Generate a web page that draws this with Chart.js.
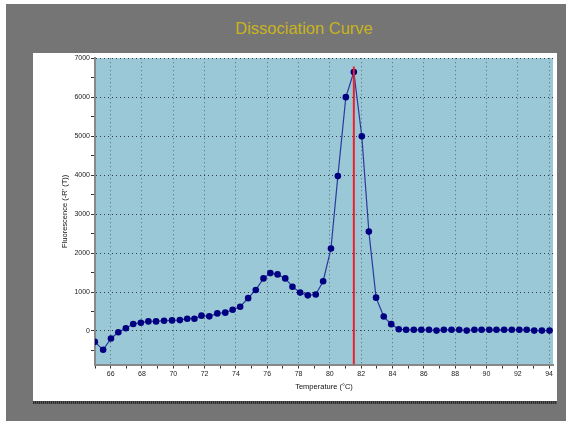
<!DOCTYPE html>
<html>
<head>
<meta charset="utf-8">
<title>Dissociation Curve</title>
<script src="https://cdn.jsdelivr.net/npm/chart.js@4"></script>
<style>
  body { margin: 0; width: 566px; height: 421px; overflow: hidden; background: #fff; font-family: 'Liberation Sans', Arial, sans-serif; }
  #frame { position: absolute; left: 6px; top: 4px; width: 560px; height: 417px; background: #757575; }
  #title { position: absolute; left: 194px; top: 18px; width: 220px; text-align: center; line-height: 20px; font-size: 16.5px; color: #c8b41c; }
  #panel { position: absolute; left: 33px; top: 53px; width: 524px; height: 348px; background: #fff; }
  #shadow { position: absolute; left: 33px; top: 401px; width: 524px; height: 3px;
            background: repeating-linear-gradient(90deg, #2e2e2e 0 1px, #555 1px 2px); }
  #chart { position: absolute; left: 0; top: 0; }
</style>
</head>
<body>
<div id="frame"></div>
<div id="title">Dissociation Curve</div>
<div id="panel"><canvas id="chart" width="524" height="348"></canvas></div>
<div id="shadow"></div>
<script>
// temperaturas medidas (eje X) y fluorescencia -R'(T)
const temps = [
  64.99, 65.52, 66.02, 66.49, 66.97, 67.44, 67.93, 68.41, 68.90, 69.41,
  69.92, 70.42, 70.89, 71.35, 71.80, 72.30, 72.81, 73.32, 73.79, 74.27,
  74.78, 75.27, 75.76, 76.20, 76.66, 77.15, 77.61, 78.10, 78.59, 79.10,
  79.57, 80.07, 80.51, 81.02, 81.53, 82.04, 82.49, 82.95, 83.44, 83.92,
  84.40, 84.87, 85.36, 85.84, 86.33, 86.81, 87.28, 87.77, 88.26, 88.74,
  89.23, 89.69, 90.18, 90.64, 91.13, 91.62, 92.10, 92.57, 93.05, 93.54,
  94.03
];
const fluor = [
  -279, -483, -193, -33, 69, 178, 213, 246, 246, 264,
  272, 279, 315, 315, 393, 375, 451, 470, 546, 622,
  843, 1053, 1350, 1485, 1452, 1350, 1137, 985, 915, 937,
  1277, 2115, 3974, 6000, 6643, 4995, 2551, 856, 370, 175,
  45, 30, 30, 30, 30, 10, 30, 30, 30, 10,
  30, 30, 30, 30, 30, 30, 30, 30, 10, 10,
  10
];
// marcador del pico (Tm)
const peakTemp = 81.53;
const peakLineTop = 6790;

// ticks: los pares llevan etiqueta y rejilla, los impares solo marca
const xTicks = [65, 66, 67, 68, 69, 70, 71, 72, 73, 74, 75, 76, 77, 78, 79,
                80, 81, 82, 83, 84, 85, 86, 87, 88, 89, 90, 91, 92, 93, 94];
const xLabels = [66, 68, 70, 72, 74, 76, 78, 80, 82, 84, 86, 88, 90, 92, 94];
const yTicks = [-500, 0, 500, 1000, 1500, 2000, 2500, 3000, 3500,
                4000, 4500, 5000, 5500, 6000, 6500, 7000];
const yLabels = [0, 1000, 2000, 3000, 4000, 5000, 6000, 7000];

const xMin = 65, xMax = 94.25;
const yMin = -860, yMax = 7000;

const FONT = "'Liberation Sans', Arial, sans-serif";

// fondo azul del area de trazado
const plotBg = {
  id: 'plotBg',
  beforeDraw(chart) {
    const { ctx, chartArea: a } = chart;
    ctx.save();
    ctx.fillStyle = '#9bc8d6';
    ctx.fillRect(a.left, a.top, a.right - a.left, a.bottom - a.top);
    ctx.restore();
  }
};

const curva = temps.map((t, i) => ({ x: t, y: fluor[i] }));

new Chart(document.getElementById('chart'), {
  type: 'scatter',
  data: {
    datasets: [
      {
        label: 'Tm',
        data: [{ x: peakTemp, y: peakLineTop }, { x: peakTemp, y: yMin }],
        showLine: true,
        borderColor: '#f01e28',
        borderWidth: 2,
        pointRadius: 0,
        order: 0
      },
      {
        label: 'Fluorescence',
        data: curva,
        showLine: true,
        borderColor: '#2a3a9e',
        borderWidth: 1.2,
        pointRadius: 3.3,
        pointBackgroundColor: '#000080',
        pointBorderColor: '#000080',
        pointBorderWidth: 0,
        order: 1
      }
    ]
  },
  options: {
    responsive: false,
    animation: false,
    layout: { padding: { top: 5, right: 1, left: 0, bottom: 0 } },
    plugins: { legend: { display: false }, tooltip: { enabled: false } },
    scales: {
      x: {
        type: 'linear',
        min: xMin,
        max: xMax,
        afterBuildTicks: s => { s.ticks = xTicks.map(v => ({ value: v })); },
        afterFit: s => { s.height = 36.5; },
        ticks: {
          autoSkip: false, maxRotation: 0,
          callback: v => (xLabels.includes(v) ? v : ''),
          font: { size: 7, family: FONT }, color: '#222', padding: 1
        },
        grid: {
          color: c => (c.tick && xLabels.includes(c.tick.value) ? '#566870' : 'rgba(0,0,0,0)'),
          tickColor: '#333', tickLength: 4, lineWidth: 1
        },
        border: { color: '#888', width: 2, dash: [1, 3] },
        title: {
          display: true, text: 'Temperature (°C)', color: '#111',
          font: { size: 7.5, family: FONT }, padding: { top: 0, bottom: 9.5 }
        }
      },
      y: {
        min: yMin,
        max: yMax,
        afterBuildTicks: s => { s.ticks = yTicks.map(v => ({ value: v })); },
        afterFit: s => { s.width = 62; },
        ticks: {
          autoSkip: false,
          callback: v => (yLabels.includes(v) ? v : ''),
          font: { size: 7, family: FONT }, color: '#222', padding: 1
        },
        grid: {
          color: c => (c.tick && yLabels.includes(c.tick.value) ? '#2e3e44' : 'rgba(0,0,0,0)'),
          tickColor: '#333', tickLength: 4, lineWidth: 1
        },
        border: { color: '#888', width: 2, dash: [1, 3] },
        title: {
          display: true, text: "Fluorescence (-R' (T))", color: '#111',
          font: { size: 7.5, family: FONT }, padding: { top: 27.5, bottom: 0 }
        }
      }
    }
  },
  plugins: [plotBg]
});
</script>
</body>
</html>
